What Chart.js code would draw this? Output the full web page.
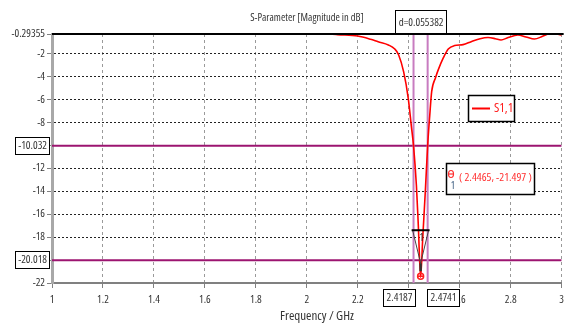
<!DOCTYPE html>
<html>
<head>
<meta charset="utf-8">
<script src="https://cdn.jsdelivr.net/npm/chart.js@4.4.1/dist/chart.umd.min.js"></script>
<style>
    html, body { margin: 0; background: #fff; }
    #wrap { width: 569px; height: 327px; }
</style>
</head>
<body>
<div id="wrap"><canvas id="grafico"></canvas></div>
<script>
// --- Datos ---
const freq = [2.07, 2.12, 2.2, 2.25, 2.28, 2.32, 2.345, 2.36, 2.38, 2.398, 2.41, 2.4187, 2.43, 2.4375, 2.4465,
    2.455, 2.465, 2.4741, 2.482, 2.49, 2.505, 2.516, 2.535, 2.555, 2.58, 2.613, 2.645, 2.68, 2.711, 2.74,
    2.762, 2.79, 2.828, 2.86, 2.893, 2.925, 2.957, 2.98, 3.0];
const s11 = [-0.25, -0.35, -0.47, -0.75, -0.97, -1.25, -1.6, -2.1, -3.6, -5.9, -8.3, -10.032, -13.5, -17, -21.497,
    -18, -14, -10.032, -7.5, -5.3, -4.1, -3.4, -2.4, -1.6, -1.3, -1.22, -0.96, -0.7, -0.6, -0.7,
    -0.82, -0.6, -0.38, -0.55, -0.73, -0.5, -0.23, -0.3, -0.38];
const xTicks = [1, 1.2, 1.4, 1.6, 1.8, 2, 2.2, 2.4, 2.6, 2.8, 3];
const yTicks = [-22, -20.018, -18, -16, -14, -12, -10.032, -8, -6, -4, -2, -0.29355];
const markerFreqs = [2.4187, 2.4741];
const markerLevels = [-10.032, -20.018];
const minPoint = [2.4465, -21.497];
const deltaLabel = 'd=0.055382';
const curveName = 'S1,1';

const FAMILY = '"Open Sans", sans-serif';
const fuente = px => 'condensed ' + px + 'px ' + FAMILY;
const yMin = -22, yMax = -0.29355;

// Lineas de marcadores (verticales y horizontales)
const lineasV = markerFreqs.map(f => ({
    data: [{ x: f, y: yMin }, { x: f, y: yMax }],
    borderColor: '#c87cc0', borderWidth: 2, pointRadius: 0, showLine: true
}));
const lineasH = markerLevels.map(v => ({
    data: [{ x: 1, y: v }, { x: 3, y: v }],
    borderColor: '#9c1470', borderWidth: 2, pointRadius: 0, showLine: true
}));

// Plugin para textos y cajas (titulo, leyenda, etiquetas de marcadores)
const anotaciones = {
    id: 'anotaciones',
    afterDraw(chart) {
        const { ctx, chartArea: a, scales: { x, y } } = chart;
        ctx.save();
        ctx.textBaseline = 'middle';

        // borde superior
        ctx.strokeStyle = '#000';
        ctx.lineWidth = 2;
        ctx.beginPath(); ctx.moveTo(a.left, a.top); ctx.lineTo(a.right + 2, a.top); ctx.stroke();

        // titulos
        ctx.fillStyle = '#333';
        ctx.textAlign = 'center';
        ctx.font = fuente(10.5);
        ctx.fillText('S-Parameter [Magnitude in dB]', 307, 18);
        ctx.font = fuente(13);
        ctx.fillText('Frequency / GHz', 317, 316);

        ctx.font = fuente(11);
        const caja = (x0, y0, w, h, lw) => {
            ctx.fillStyle = '#fff';
            ctx.fillRect(x0, y0, w, h);
            ctx.strokeStyle = '#000';
            ctx.lineWidth = lw || 1;
            ctx.strokeRect(x0 + 0.5, y0 + 0.5, w, h);
        };

        // cajas en eje y
        markerLevels.forEach(v => {
            const py = Math.round(y.getPixelForValue(v));
            const txt = v.toFixed(3);
            caja(15, py - 9, 34, 17);
            ctx.fillStyle = '#333';
            ctx.textAlign = 'right';
            ctx.fillText(txt, 47, py);
        });

        // cajas en eje x
        markerFreqs.forEach((f, i) => {
            const px = Math.round(x.getPixelForValue(f));
            const txt = String(f);
            const w = 32;
            const x0 = i === 0 ? px + 1 - w : px - 1;
            caja(x0, 289, w, 17);
            ctx.fillStyle = '#333';
            ctx.textAlign = 'center';
            ctx.fillText(txt, x0 + w / 2 + 0.5, 298);
        });

        // caja delta arriba
        const pm = (x.getPixelForValue(markerFreqs[0]) + x.getPixelForValue(markerFreqs[1])) / 2;
        const wd = 51;
        caja(Math.round(pm - wd / 2), 10, wd, 23);
        ctx.fillStyle = '#333';
        ctx.textAlign = 'center';
        ctx.fillText(deltaLabel, pm + 0.5, 23);

        // triangulo del minimo
        const mx = x.getPixelForValue(minPoint[0]);
        const my = y.getPixelForValue(minPoint[1]);
        ctx.strokeStyle = '#444';
        ctx.lineWidth = 1;
        ctx.beginPath();
        ctx.moveTo(mx - 8, my - 47); ctx.lineTo(mx, my - 14); ctx.lineTo(mx + 8, my - 47);
        ctx.stroke();
        ctx.strokeStyle = '#000';
        ctx.lineWidth = 2;
        ctx.beginPath(); ctx.moveTo(mx - 9, my - 47); ctx.lineTo(mx + 9, my - 47); ctx.stroke();
        ctx.strokeStyle = '#333';
        ctx.lineWidth = 2.5;
        ctx.beginPath(); ctx.moveTo(mx, my - 14); ctx.lineTo(mx, my - 6); ctx.stroke();
        ctx.font = fuente(10);
        ctx.fillStyle = '#222';
        ctx.fillText('1', mx + 1, my - 39);
        ctx.strokeStyle = '#ff2020';
        ctx.lineWidth = 1.5;
        ctx.beginPath(); ctx.arc(mx, my - 1, 3, 0, Math.PI * 2); ctx.stroke();
        ctx.beginPath(); ctx.moveTo(mx - 3, my - 1); ctx.lineTo(mx + 3, my - 1); ctx.stroke();

        // caja con valor del marcador
        caja(446, 163, 88, 31, 1.5);
        ctx.strokeStyle = '#ff3030';
        ctx.lineWidth = 1.2;
        ctx.beginPath(); ctx.ellipse(451, 174, 2.5, 3.5, 0, 0, Math.PI * 2); ctx.stroke();
        ctx.beginPath(); ctx.moveTo(448.5, 174); ctx.lineTo(453.5, 174); ctx.stroke();
        ctx.fillStyle = '#33557a';
        ctx.font = fuente(10);
        ctx.fillText('1', 453, 186);
        ctx.fillStyle = '#ff3030';
        ctx.font = fuente(11.5);
        ctx.textAlign = 'left';
        ctx.fillText('( ' + minPoint[0] + ', ' + minPoint[1] + ' )', 459, 178);

        // leyenda
        caja(468, 95, 46, 26, 1.5);
        ctx.strokeStyle = '#ff0000';
        ctx.lineWidth = 2;
        ctx.beginPath(); ctx.moveTo(472, 108.5); ctx.lineTo(490, 108.5); ctx.stroke();
        ctx.fillStyle = '#ff2020';
        ctx.font = fuente(13);
        ctx.fillText(curveName, 494, 108);

        ctx.restore();
    }
};

// 'condensed' va en weight para que Chart.js lo meta en la cadena de fuente
const fuenteEje = { family: FAMILY, size: 11, weight: 'condensed' };

new Chart(document.getElementById('grafico'), {
    type: 'scatter',
    data: {
        datasets: [
            {
                label: curveName,
                data: freq.map((f, i) => ({ x: f, y: s11[i] })),
                borderColor: '#ff0000',
                borderWidth: 1.6,
                showLine: true,
                pointRadius: 0,
                cubicInterpolationMode: 'monotone'
            },
            ...lineasV,
            ...lineasH
        ]
    },
    options: {
        responsive: true,
        maintainAspectRatio: false,
        animation: false,
        layout: { padding: { top: 34, right: 4, left: 0, bottom: 0 } },
        plugins: { legend: { display: false }, tooltip: { enabled: false } },
        scales: {
            x: {
                type: 'linear', min: 1, max: 3,
                afterBuildTicks: s => { s.ticks = xTicks.map(v => ({ value: v })); },
                afterFit: s => { s.height = 44; },
                ticks: {
                    color: '#333', padding: 5, maxRotation: 0, autoSkip: false,
                    font: fuenteEje,
                    callback: v => String(v)
                },
                grid: { color: '#9a9a9a', tickColor: '#808080', tickLength: 5, tickBorderDash: [] },
                border: { color: '#808080', width: 2, dash: [3, 3] }
            },
            y: {
                type: 'linear', min: yMin, max: yMax,
                afterBuildTicks: s => { s.ticks = yTicks.map(v => ({ value: v })); },
                afterFit: s => { s.width = 52; },
                ticks: {
                    color: '#333', padding: 2, autoSkip: false,
                    font: fuenteEje,
                    callback: v => markerLevels.includes(v) ? '' : String(v)
                },
                grid: { color: '#222', tickColor: '#808080', tickLength: 5, tickBorderDash: [] },
                border: { color: '#a8a8a8', width: 3, dash: [2, 2] }
            }
        }
    },
    plugins: [anotaciones]
});
</script>
</body>
</html>
